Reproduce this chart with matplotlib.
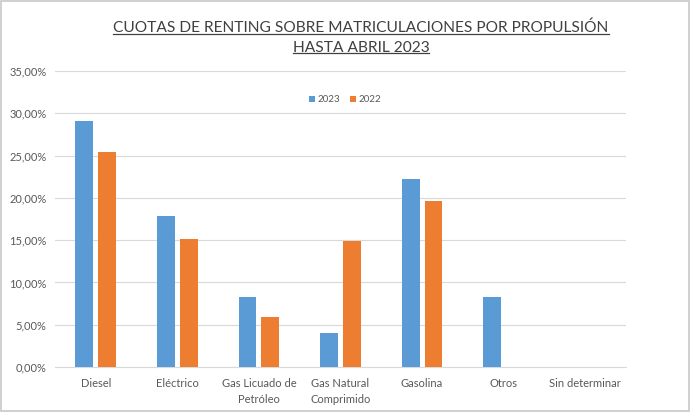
import matplotlib
matplotlib.use("Agg")
import matplotlib.pyplot as plt
import numpy as np
from matplotlib.lines import Line2D
from matplotlib.patches import Rectangle

categorias = ["Diesel", "Eléctrico", "Gas Licuado de\nPetróleo", "Gas Natural\nComprimido",
              "Gasolina", "Otros", "Sin determinar"]
cuota_2023 = [29.06, 17.9, 8.26, 4.06, 22.2, 8.26, 0.0]
cuota_2022 = [25.47, 15.1, 5.96, 14.85, 19.6, 0.0, 0.0]
ticks_y = [0, 5, 10, 15, 20, 25, 30, 35]

azul = "#5B9BD5"
naranja = "#ED7D31"
gris = "#595959"

plt.rcParams['font.family'] = ['Lato', 'DejaVu Sans']

fig = plt.figure(figsize=(6.9, 4.12), dpi=100)
ax = fig.add_axes([55 / 690, 1 - 367 / 412, 571 / 690, 296 / 412])

x = np.arange(len(categorias))
ax.bar(x - 0.14, cuota_2023, width=0.22, color=azul, label="2023", zorder=3)
ax.bar(x + 0.14, cuota_2022, width=0.22, color=naranja, label="2022", zorder=3)

ax.set_xlim(-0.5, len(categorias) - 0.5)
ax.set_ylim(0, 35)
ax.set_yticks(ticks_y)
ax.set_yticklabels([f"{v:.2f}%".replace(".", ",") for v in ticks_y])
ax.set_xticks(x)
ax.set_xticklabels(categorias, linespacing=1.5)
ax.tick_params(axis="both", length=0, labelsize=8, colors=gris)
ax.tick_params(axis="x", pad=8)
ax.tick_params(axis="y", pad=6)
ax.grid(axis="y", color="#D9D9D9", lw=0.8, zorder=0)
for s in ["top", "right", "left"]:
    ax.spines[s].set_visible(False)
ax.spines["bottom"].set_color("#D9D9D9")

leg = fig.legend(loc="center", bbox_to_anchor=(345 / 690, 1 - 100 / 412), ncol=2,
                 frameon=False, fontsize=7, handlelength=0.6, handleheight=0.6,
                 handletextpad=0.3, columnspacing=1.0, labelcolor=gris)

t1 = fig.text(361 / 690, 1 - 28 / 412, "CUOTAS DE RENTING SOBRE MATRICULACIONES POR PROPULSIÓN",
              ha="center", va="center", fontsize=11.2, color="#404040")
t2 = fig.text(361 / 690, 1 - 48 / 412, "HASTA ABRIL 2023",
              ha="center", va="center", fontsize=11.2, color="#404040")

# subrayado del titulo
fig.canvas.draw()
r = fig.canvas.get_renderer()
inv = fig.transFigure.inverted()
for t in (t1, t2):
    bb = t.get_window_extent(r)
    (x0, y0), (x1, y1) = inv.transform([[bb.x0, bb.y0], [bb.x1, bb.y1]])
    fig.add_artist(Line2D([x0, x1], [y0 + 0.004, y0 + 0.004], transform=fig.transFigure,
                          color="#404040", lw=0.9))

fig.add_artist(Rectangle((0.002, 0.003), 0.996, 0.994, transform=fig.transFigure,
                         fill=False, edgecolor="#C8C8C8", lw=1.2))

fig.savefig("out.png", dpi=100)
